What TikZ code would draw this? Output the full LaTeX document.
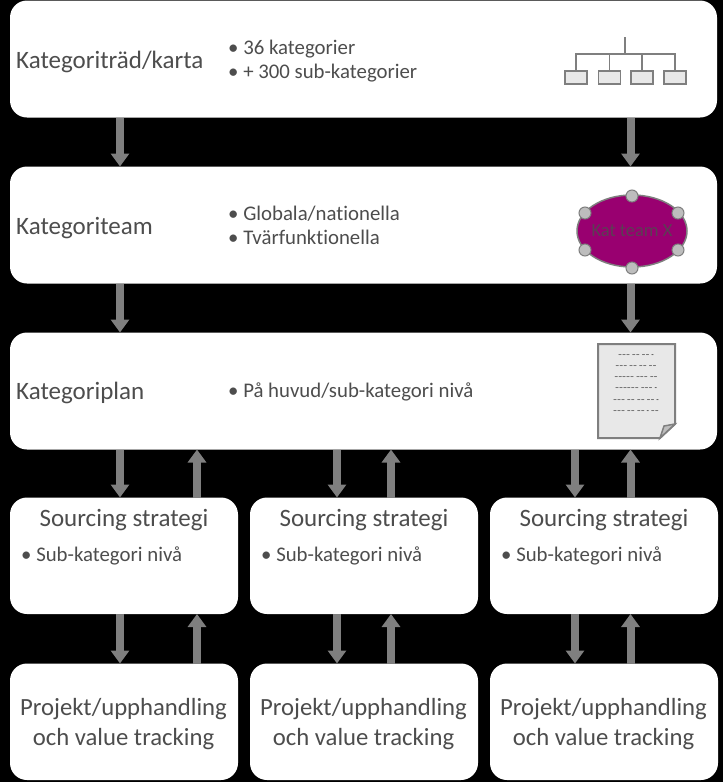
\documentclass[tikz,border=0pt]{standalone}
\usepackage{fontspec}
\setmainfont[RawFeature=-liga]{Carlito}
\usetikzlibrary{positioning,arrows.meta,shapes.geometric}
\definecolor{inktext}{HTML}{4D4D4D}
\definecolor{flowgray}{HTML}{7F7F7F}
\definecolor{iconfill}{HTML}{E8E8E8}
\definecolor{teampurple}{HTML}{990070}
\definecolor{dotgray}{HTML}{BDBDBD}
\tikzset{
  widebox/.style={draw=none,fill=white,rounded corners=17pt,minimum width=707pt,minimum height=117pt,inner sep=0pt,outer sep=0pt},
  smallbox/.style={draw=none,fill=white,rounded corners=17pt,minimum width=228pt,minimum height=116.5pt,inner sep=0pt,outer sep=0pt},
  projtext/.style={align=center,inner sep=0pt,yshift=-2.5pt,text=inktext,font=\fontsize{24.7}{30}\selectfont},
  rowtitle/.style={text=inktext,font=\fontsize{25}{30}\selectfont,inner sep=0pt,yshift=-3pt},
  boxtitle/.style={text=inktext,font=\fontsize{25}{30}\selectfont,inner sep=0pt},
  bullets/.style={text=inktext,font=\fontsize{20.8}{24}\selectfont,inner sep=0pt,align=left},
  flowarrow/.style={draw=flowgray,line width=8pt,-{Triangle[width=18pt,length=13pt]}},
  iconbox/.style={draw=flowgray,fill=iconfill,line width=1.6pt,minimum width=22pt,minimum height=13pt,inner sep=0pt},
  icondot/.style={circle,draw=flowgray,fill=dotgray,line width=1pt,minimum size=12pt,inner sep=0pt},
}
\begin{document}
\begin{tikzpicture}[x=1pt,y=-1pt]
  \fill[black] (0,0) rectangle (723,782);
  \useasboundingbox (0,0) rectangle (723,782);
  % rows
  \node[widebox] (tree) at (363.5,59) {};
  \node[widebox,below=49pt of tree] (team) {};
  \node[widebox,below=49pt of team] (plan) {};
  \node[smallbox,below=48pt of plan.south west,anchor=north west] (stratA) {};
  \node[smallbox,right=12pt of stratA] (stratB) {};
  \node[smallbox,right=12pt of stratB] (stratC) {};
  \node[smallbox,below=49.5pt of stratA] (projA) {};
  \node[smallbox,below=49.5pt of stratB] (projB) {};
  \node[smallbox,below=49.5pt of stratC] (projC) {};
  % row texts
  \node[rowtitle,right=6pt of tree.west] (treetitle) {Kategoriträd/karta};
  \node[rowtitle,right=6pt of team.west] (teamtitle) {Kategoriteam};
  \node[rowtitle,right=6pt of plan.west,yshift=1pt] (plantitle) {Kategoriplan};
  \node[bullets,anchor=west] (treetext) at (228,61.5) {• 36 kategorier\\• + 300 sub-kategorier};
  \node[bullets,anchor=west] (teamtext) at (228,225.5) {• Globala/nationella\\• Tvärfunktionella};
  \node[bullets,anchor=west] (plantext) at (228,391.5) {• På huvud/sub-kategori nivå};
  \foreach \col/\xpos in {A/21,B/261,C/501}{
    \node[boxtitle,below=12pt of strat\col.north] (title\col) {Sourcing strategi};
    \node[bullets,anchor=west] (text\col) at (\xpos,555.5) {• Sub-kategori nivå};
    \node[projtext,xshift=-0.5pt] (ptext\col) at (proj\col) {Projekt/upphandling\\och value tracking};
  }
  % tree icon
  \node[iconbox] (leafA) at (576,77.5) {};
  \node[iconbox] (leafB) at (609.5,77.5) {};
  \node[iconbox] (leafC) at (642,77.5) {};
  \node[iconbox] (leafD) at (675,77.5) {};
  \coordinate (treetop) at (625,37);
  \coordinate (treejoin) at (625,54);
  \draw[flowgray,line width=2.5pt] (treetop) -- (treejoin);
  \draw[flowgray,line width=1.6pt] (leafA.north) |- (treejoin) -| (leafD.north);
  \draw[flowgray,line width=1.6pt] (leafB.north) -- (leafB.north |- treejoin);
  \draw[flowgray,line width=1.6pt] (leafC.north) -- (leafC.north |- treejoin);
  % team icon
  \node[ellipse,draw=flowgray,fill=teampurple,line width=1.5pt,minimum width=110pt,minimum height=72pt,inner sep=0pt] (teamoval) at (632,231) {};
  \node[inner sep=0pt,text=inktext!80!teampurple,font=\fontsize{18.5}{22}\selectfont] (teamtag) at (teamoval) {Kat team X};
  \node[icondot] (dotA) at (632,196) {};
  \node[icondot] (dotB) at (585,213) {};
  \node[icondot] (dotC) at (678,213) {};
  \node[icondot] (dotD) at (585,250) {};
  \node[icondot] (dotE) at (678,250) {};
  \node[icondot] (dotF) at (632,268) {};
  % plan icon
  \draw[flowgray,fill=iconfill,line width=2pt] (598,344) -- (675,344) -- (675,424) -- (660,438) -- (598,438) -- cycle;
  \draw[flowgray,fill=dotgray,line width=1.5pt] (660,438) -- (664,426) -- (675,424) -- cycle;
  \node[align=center,inner sep=0pt,font=\fontsize{8}{11.2}\selectfont] (plandash) at (636,384) {––– –– –– -\\––– –– –– ––\\––––– ––– ––\\–––––– ––– -\\––– –– –– –– -\\––– –– –– - ––};
  % arrows
  \coordinate (left) at (120,0);
  \coordinate (right) at (630.5,0);
  \draw[flowarrow] (tree.south -| left) -- (team.north -| left);
  \draw[flowarrow] (tree.south -| right) -- (team.north -| right);
  \draw[flowarrow] (team.south -| left) -- (plan.north -| left);
  \draw[flowarrow] (team.south -| right) -- (plan.north -| right);
  \foreach \col/\xdown/\xup in {A/120/197,B/337/391,C/575/630.5}{
    \coordinate (down\col) at (\xdown,0);
    \coordinate (up\col) at (\xup,0);
    \draw[flowarrow] (plan.south -| down\col) -- (strat\col.north -| down\col);
    \draw[flowarrow] (strat\col.north -| up\col) -- (plan.south -| up\col);
    \draw[flowarrow] (strat\col.south -| down\col) -- (proj\col.north -| down\col);
    \draw[flowarrow] (proj\col.north -| up\col) -- (strat\col.south -| up\col);
  }
\end{tikzpicture}
\end{document}
